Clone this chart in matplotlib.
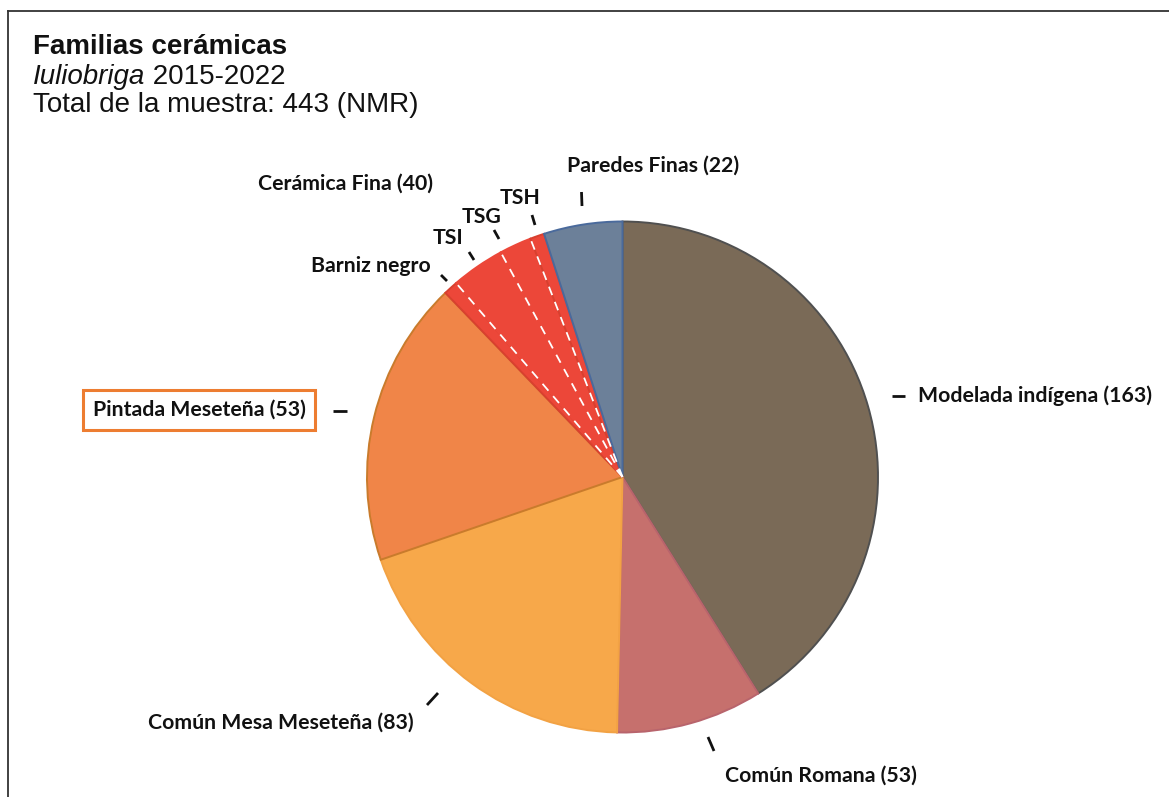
import numpy as np
import matplotlib
matplotlib.use("Agg")
import matplotlib.pyplot as plt
from matplotlib.lines import Line2D

W, H = 1169, 797

# slice sizes as drawn (total 443)
categorias = ["Modelada indígena", "Común Romana", "Común Mesa Meseteña",
              "Pintada Meseteña", "Barniz negro", "TSI", "TSG", "TSH",
              "Paredes Finas"]
valores = [182, 41, 86, 80, 4, 15, 9, 4, 22]
# texts of the labels
etiquetas = ["Modelada indígena (163)", "Común Romana (53)",
             "Común Mesa Meseteña (83)", "Pintada Meseteña (53)",
             "Barniz negro", "TSI", "TSG", "TSH", "Paredes Finas (22)"]
etiqueta_grupo = "Cerámica Fina (40)"

colores = ["#7A6A57", "#C6706D", "#F7A84A", "#F08548",
           "#EC4739", "#EC4739", "#EC4739", "#EC4739", "#6C8099"]
bordes = ["#505050", "#B8646C", "#F2A244", "#C97B2C",
          "#D8402F", "#EC4739", "#EC4739", "#D8402F", "#4A6A9C"]

# label layout in pixels (x, y, ha) and the little leader ticks
pos_etiq = [(918, 396, "left"), (821, 776, "center"), (281, 723, "center"),
            (199, 410, "center"), (371, 266, "center"), (448, 238, "center"),
            (482, 217, "center"), (520, 198, "center"), (653, 166, "center")]
ticks = [((892, 905), (396, 396)), ((708, 714), (737, 751)),
         ((427, 438), (705, 693)), ((333, 347), (411, 411)),
         ((441, 447), (275, 281)), ((469, 474), (252, 260)),
         ((494, 499), (230, 239)), ((532, 535), (215, 225)),
         ((581.5, 582), (192, 206))]

cx, cy, r = 622.5, 477, 255.5

fig = plt.figure(figsize=(W / 100, H / 100), dpi=100)
ax = fig.add_axes([0, 0, 1, 1])

# y axis inverted -> start at -90 and counterclock to go clockwise from 12 o'clock
wedges, _ = ax.pie(valores, colors=colores, startangle=-90, counterclock=True,
                   center=(cx, cy), radius=r,
                   wedgeprops=dict(linewidth=1.4))
for w, ec in zip(wedges, bordes):
    w.set_edgecolor(ec)

ax.set_xlim(0, W)
ax.set_ylim(H, 0)
ax.set_aspect("equal")
ax.axis("off")

# dashed white separators inside Cerámica Fina
for w in wedges[5:8]:
    t = np.deg2rad(w.theta1)
    ax.plot([cx, cx + r * np.cos(t)], [cy, cy + r * np.sin(t)],
            color="white", lw=1.3, dashes=(5, 4))

fuente = "Lato"
fs = 15.3
for i, txt in enumerate(etiquetas):
    x, y, ha = pos_etiq[i]
    kw = {}
    if categorias[i] == "Pintada Meseteña":
        kw["bbox"] = dict(boxstyle="square,pad=0.45", fc="white",
                          ec="#ED7D31", lw=2.2)
    ax.text(x, y, txt, ha=ha, va="center", fontsize=fs, fontweight="bold",
            family=fuente, color="#111111", **kw)
ax.text(346, 184, etiqueta_grupo, ha="center", va="center", fontsize=fs,
        fontweight="bold", family=fuente, color="#111111")

for xs, ys in ticks:
    ax.plot(xs, ys, color="#111111", lw=2, solid_capstyle="butt")

# titles
t1 = ax.text(33, 54, "Familias cerámicas", fontsize=20, fontweight="bold",
             family="Liberation Sans", va="baseline", color="#111111")
t2 = ax.text(33, 84, "Iuliobriga", fontsize=20, style="italic",
             family="Liberation Sans", va="baseline", color="#111111")
ax.annotate(" 2015-2022", xy=(1, 0), xycoords=t2, va="bottom", ha="left",
            fontsize=20, family="Liberation Sans", color="#111111")
ax.text(33, 112, "Total de la muestra: 443 (NMR)", fontsize=20,
        family="Liberation Sans", va="baseline", color="#111111")

# frame (top and left)
fig.add_artist(Line2D([8 / W, 1], [1 - 11 / H, 1 - 11 / H], color="#333333", lw=1.3))
fig.add_artist(Line2D([8 / W, 8 / W], [0, 1 - 11 / H], color="#333333", lw=1.3))

fig.savefig("out.png", dpi=100, facecolor="white")
